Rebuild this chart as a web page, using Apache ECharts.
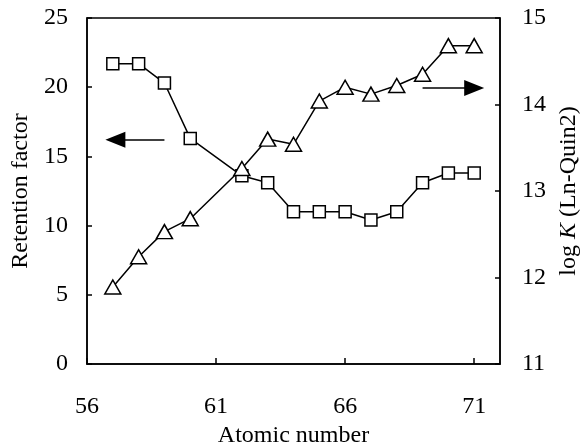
<!DOCTYPE html>
<html>
<head>
<meta charset="utf-8">
<script src="https://cdn.jsdelivr.net/npm/echarts@6/dist/echarts.min.js"></script>
<style>
  html, body { margin: 0; padding: 0; background: #fff; }
  #chart { width: 581px; height: 448px; }
</style>
</head>
<body>
<div id="chart"></div>
<script>
// atomic numbers (Pm, 61, not measured)
const atomicNumbers = [57, 58, 59, 60, 62, 63, 64, 65, 66, 67, 68, 69, 70, 71]
// retention factor, left axis
const retentionFactor = [21.7, 21.7, 20.3, 16.3, 13.6, 13.1, 11.0, 11.0, 11.0, 10.4, 11.0, 13.1, 13.8, 13.8]
// log K (Ln-Quin2), right axis
const logK = [11.89, 12.24, 12.53, 12.68, 13.26, 13.60, 13.54, 14.04, 14.20, 14.12, 14.22, 14.35, 14.68, 14.68]
const xTicks = [56, 61, 66, 71]

const font = 'Liberation Serif'
const black = '#000'
const fs = 24

const chart = echarts.init(document.getElementById('chart'))

const pairs = (ys) => atomicNumbers.map((x, i) => [x, ys[i]])

const arrowLine = {
  silent: true,
  animation: false,
  symbol: ['none', 'triangle'],
  symbolSize: [16, 20],
  label: { show: false },
  lineStyle: { color: black, width: 1.5, type: 'solid' }
}

chart.setOption({
  animation: false,
  grid: {
    left: 87,
    right: 81,
    top: 18,
    bottom: 84,
    outerBoundsMode: 'none',
    containLabel: false,
    show: true,
    borderColor: black,
    borderWidth: 1.5,
    backgroundColor: 'transparent'
  },
  xAxis: {
    type: 'value',
    min: 56,
    max: 72,
    name: 'Atomic number',
    nameLocation: 'middle',
    nameGap: 60,
    nameTextStyle: { fontFamily: font, fontSize: fs, color: black },
    axisLine: { lineStyle: { color: black, width: 1.5 } },
    axisTick: { inside: true, length: 6, customValues: xTicks, lineStyle: { color: black, width: 1.5 } },
    axisLabel: { customValues: xTicks, margin: 31, fontFamily: font, fontSize: fs, color: black },
    splitLine: { show: false }
  },
  yAxis: [
    {
      type: 'value',
      min: 0,
      max: 25,
      interval: 5,
      name: 'Retention factor',
      nameLocation: 'middle',
      nameGap: 53,
      nameTextStyle: { fontFamily: font, fontSize: fs, color: black },
      axisLine: { show: true, lineStyle: { color: black, width: 1.5 } },
      axisTick: { show: true, inside: true, length: 5, lineStyle: { color: black, width: 1.5 } },
      axisLabel: { margin: 19, fontFamily: font, fontSize: fs, color: black },
      splitLine: { show: false }
    },
    {
      type: 'value',
      min: 11,
      max: 15,
      interval: 1,
      position: 'right',
      name: '{n|log }{k|K}{n| (Ln-Quin2)}',
      nameLocation: 'middle',
      nameGap: 57,
      nameRotate: 90,
      nameTextStyle: {
        fontFamily: font, fontSize: fs, color: black,
        rich: {
          n: { fontFamily: font, fontSize: fs, color: black },
          k: { fontFamily: font, fontSize: fs, color: black, fontStyle: 'italic' }
        }
      },
      axisLine: { show: true, lineStyle: { color: black, width: 1.5 } },
      axisTick: { show: true, inside: true, length: 5, lineStyle: { color: black, width: 1.5 } },
      axisLabel: { margin: 22, fontFamily: font, fontSize: fs, color: black },
      splitLine: { show: false }
    }
  ],
  series: [
    {
      name: 'Retention factor',
      type: 'line',
      yAxisIndex: 0,
      data: pairs(retentionFactor),
      symbol: 'rect',
      symbolSize: 12,
      showAllSymbol: true,
      lineStyle: { color: black, width: 1.5 },
      itemStyle: { color: '#fff', borderColor: black, borderWidth: 1.5 },
      markLine: Object.assign({}, arrowLine, {
        data: [[{ coord: [59.0, 16.2] }, { coord: [57.1, 16.2] }]]
      })
    },
    {
      name: 'log K',
      type: 'line',
      yAxisIndex: 1,
      data: pairs(logK),
      symbol: 'triangle',
      symbolSize: [16, 14],
      showAllSymbol: true,
      lineStyle: { color: black, width: 1.5 },
      itemStyle: { color: '#fff', borderColor: black, borderWidth: 1.5 },
      markLine: Object.assign({}, arrowLine, {
        data: [[{ coord: [69.0, 14.19] }, { coord: [71.0, 14.19] }]]
      })
    }
  ]
})
</script>
</body>
</html>
